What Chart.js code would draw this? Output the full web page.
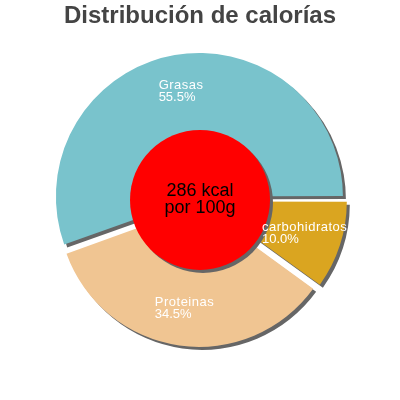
<!DOCTYPE html>
<html>
<head>
<meta charset="utf-8">
<script src="https://cdn.jsdelivr.net/npm/chart.js@4"></script>
<style>
html,body{margin:0;padding:0;background:#fff;}
#wrap{width:400px;height:400px;}
</style>
</head>
<body>
<div id="wrap"><canvas id="c" width="400" height="400"></canvas></div>
<script>
// Data
const categories = ["Grasas", "Proteinas", "carbohidratos"];
const percents = [55.5, 34.5, 10.0];
const colors = ["#79c3cc", "#f0c592", "#daa520"];
const explode = [14, 24, 20];
const titleText = "Distribución de calorías";
const centerLines = ["286 kcal", "por 100g"];

// Drawn clockwise from 3 o'clock, so reverse the order
const order = [2, 1, 0];
const dLabels = order.map(i => categories[i]);
const dValues = order.map(i => percents[i]);
const dColors = order.map(i => colors[i]);
const dOffsets = order.map(i => explode[i]);

const FONT = "'Liberation Sans', Arial, sans-serif";

const shadowPlugin = {
  id: 'shadow',
  beforeDatasetsDraw(chart) {
    const ctx = chart.ctx;
    ctx.save();
    ctx.shadowColor = '#666666';
    ctx.shadowOffsetX = 3;
    ctx.shadowOffsetY = 3;
    ctx.shadowBlur = 0;
  },
  afterDatasetsDraw(chart) {
    const ctx = chart.ctx;
    ctx.restore();
    const meta = chart.getDatasetMeta(0);
    const arcs = meta.data;
    const cx = arcs[0].x, cy = arcs[0].y;
    const R = arcs[0].outerRadius;

    // Center red circle
    ctx.save();
    ctx.shadowColor = '#666666';
    ctx.shadowOffsetX = 3;
    ctx.shadowOffsetY = 3;
    ctx.shadowBlur = 0;
    ctx.beginPath();
    ctx.arc(cx, cy, 70, 0, Math.PI * 2);
    ctx.fillStyle = '#ff0000';
    ctx.fill();
    ctx.restore();

    // Slice labels
    ctx.save();
    ctx.fillStyle = '#ffffff';
    ctx.textBaseline = 'alphabetic';
    ctx.textAlign = 'left';
    arcs.forEach((arc, i) => {
      const mid = (arc.startAngle + arc.endAngle) / 2;
      const r = R * 0.786;
      const ax = cx + Math.cos(mid) * r;
      const ay = cy + Math.sin(mid) * r;
      ctx.font = "13px " + FONT;
      ctx.letterSpacing = '0.5px';
      const w1 = ctx.measureText(dLabels[i]).width;
      const left = ax - w1 / 2;
      ctx.fillText(dLabels[i], left, ay - 2.6);
      ctx.letterSpacing = '0px';
      ctx.fillText(dValues[i].toFixed(1) + '%', left, ay + 9.4);
    });
    ctx.restore();

    // Center text
    ctx.save();
    ctx.fillStyle = '#000000';
    ctx.font = "18px " + FONT;
    ctx.textAlign = 'center';
    ctx.textBaseline = 'alphabetic';
    ctx.fillText(centerLines[0], cx, cy - 4);
    ctx.fillText(centerLines[1], cx, cy + 13);
    ctx.restore();
  }
};

new Chart(document.getElementById('c'), {
  type: 'pie',
  data: {
    labels: dLabels,
    datasets: [{
      data: dValues,
      backgroundColor: dColors,
      borderWidth: 0,
      offset: dOffsets,
      hoverOffset: 0
    }]
  },
  options: {
    responsive: false,
    animation: false,
    rotation: 90,
    radius: 140,
    layout: { padding: { top: 0, bottom: 31, left: 0, right: 0 } },
    events: [],
    plugins: {
      legend: { display: false },
      tooltip: { enabled: false },
      title: {
        display: true,
        text: titleText,
        color: '#444444',
        font: { family: FONT, size: 24, weight: 'bold', lineHeight: 1.2 },
        padding: { top: 2, bottom: 0 }
      }
    }
  },
  plugins: [shadowPlugin]
});
</script>
</body>
</html>
